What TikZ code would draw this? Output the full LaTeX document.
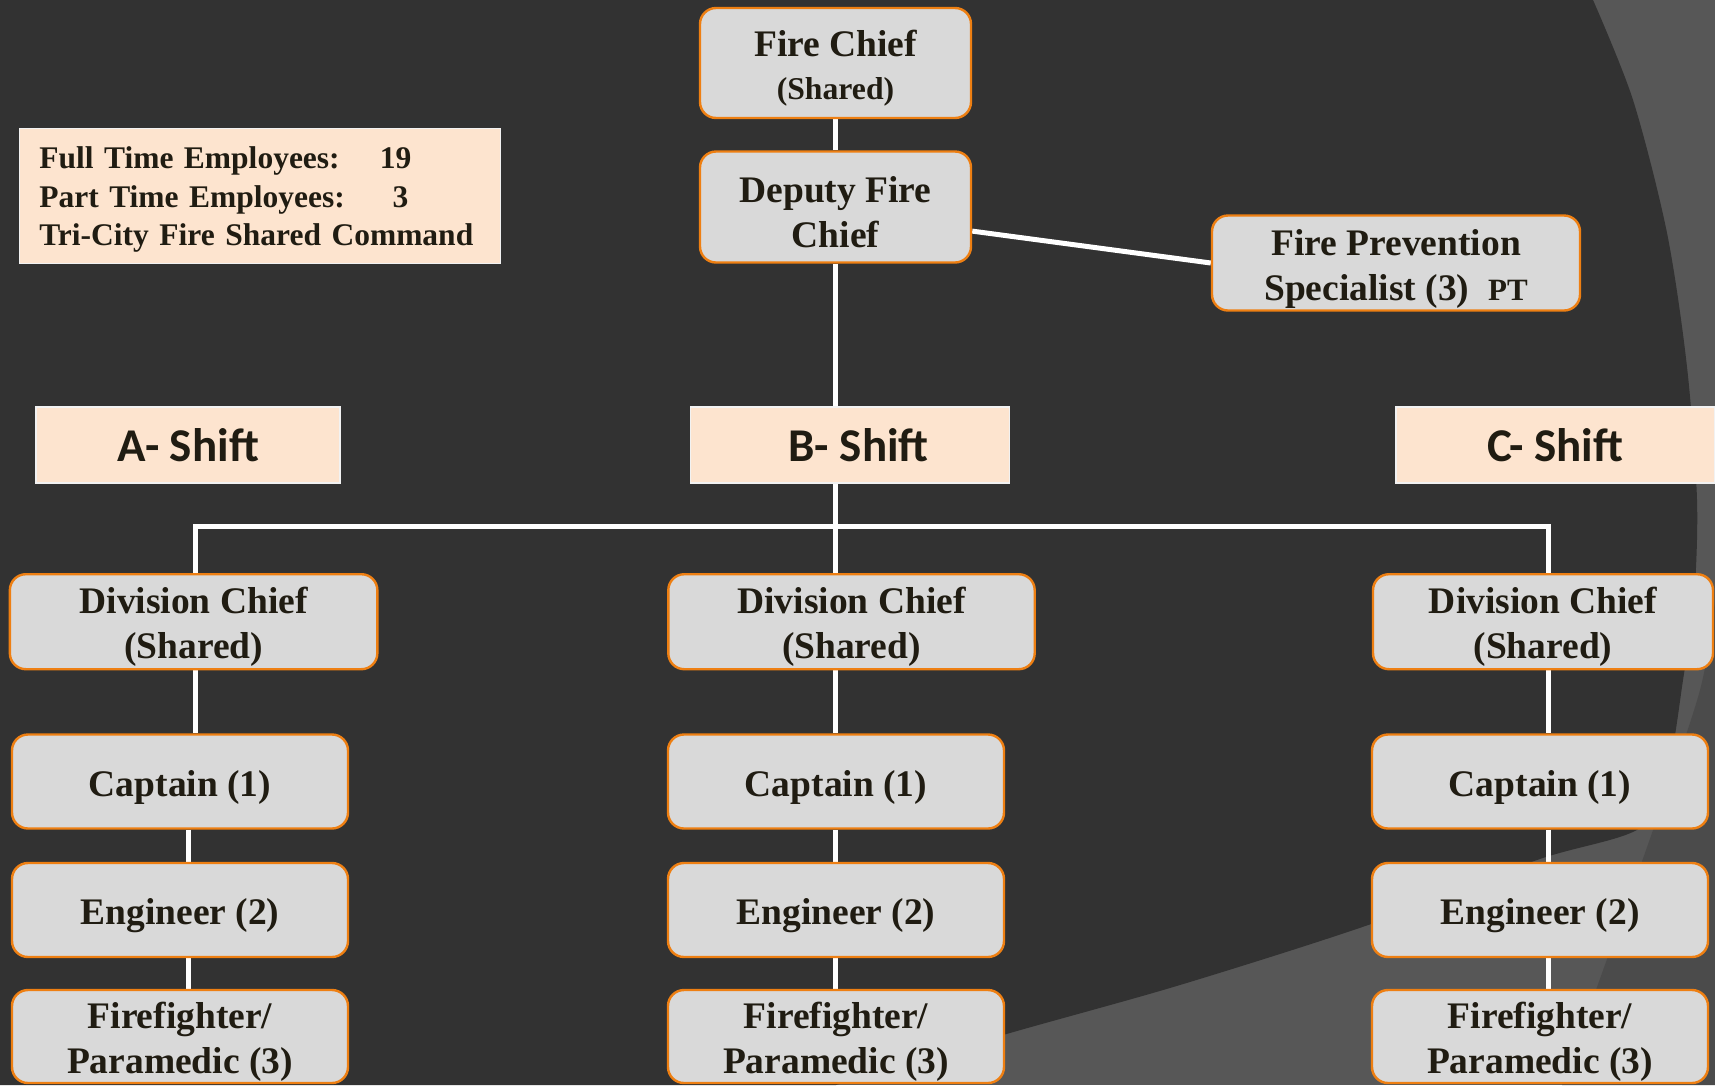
\documentclass[tikz,border=0pt]{standalone}
\usepackage{fontspec}
\setmainfont{Liberation Serif}
\newfontfamily\shiftfont{Carlito}
\usetikzlibrary{calc}

\pgfdeclarelayer{back}
\pgfdeclarelayer{wires}
\pgfsetlayers{back,wires,main}

\definecolor{slate}{HTML}{323232}
\definecolor{arcgrey}{HTML}{575757}
\definecolor{bandgrey}{HTML}{4B4B4B}
\definecolor{boxfill}{HTML}{D9D9D9}
\definecolor{boxline}{HTML}{EE7F12}
\definecolor{peach}{HTML}{FDE4CF}
\definecolor{ink}{HTML}{201C12}

\tikzset{
  rolebox/.style={draw=boxline, line width=2.4pt, fill=boxfill, rounded corners=16pt,
    inner sep=0pt, align=center, text=ink,
    font=\bfseries\fontsize{37.5}{45}\selectfont},
  rank/.style={rolebox, minimum width=336pt, minimum height=94pt},
  divbox/.style={rolebox, minimum height=95pt},
  shiftbox/.style={draw=white!90!gray, line width=1.6pt, fill=peach, inner sep=0pt,
    text=ink, minimum height=76pt,
    font=\shiftfont\bfseries\fontsize{47}{56}\selectfont},
  wire/.style={draw=white, line width=5pt},
}

% a line of fixed width with its figure pushed to the right
\newcommand\tabline[2]{\leavevmode\hbox to #1{#2}}
% taller first line, so the text sits a little low in its box
\newcommand\boxstrut{\rule{0pt}{37pt}}

\begin{document}
\begin{tikzpicture}[x=1pt,y=-1pt]
\useasboundingbox (0,0) rectangle (1715,1085);

% background: dark field with the lighter arc and band on the right
\begin{pgfonlayer}{back}
  \fill[arcgrey] (0,0) rectangle (1715,1085);
  \fill[bandgrey] (1715,600) -- plot[smooth, tension=0.5] coordinates
    {(1715,600) (1700,690) (1653,830) (1597,987) (1562,1085)}
    -- (1715,1085) -- cycle;
  \fill[slate] (0,0) -- plot[smooth, tension=0.5] coordinates
    {(1593,0) (1633,100) (1667,233) (1687,367) (1697,500) (1694,600)
     (1683,680) (1668,770) (1640,828) (1537,860) (1374,923) (1180,985)
     (1003,1035) (836,1085)}
    -- (0,1085) -- cycle;
\end{pgfonlayer}

% command staff
\node[rolebox, minimum width=271pt, minimum height=110pt] (fc) at (835.5,63)
  {\boxstrut Fire Chief\\[-2.4pt]{\fontsize{31.7}{38}\selectfont (Shared)}};
\node[rolebox, minimum width=271pt, minimum height=111pt] (dep) at (835.5,207)
  {\boxstrut Deputy Fire\\Chief};
\node[rolebox, minimum width=368pt, minimum height=95pt] (fps) at (1396,263)
  {\boxstrut Fire Prevention\\Specialist (3)\ \ {\fontsize{31}{37}\selectfont PT}};

% staffing summary
\node[fill=peach, draw=white!90!gray, line width=1.4pt, anchor=north west,
  minimum width=481pt, minimum height=134.5pt, text width=441pt, inner xsep=20pt,
  inner ysep=0pt, align=left, text=ink,
  font=\bfseries\fontsize{31.5}{38.3}\selectfont] (info) at (18.6,128)
  {\rule{0pt}{29pt}\tabline{372pt}{Full Time Employees:\hfill 19}\\
   \tabline{369pt}{Part Time Employees:\hfill 3}\\
   Tri-City Fire Shared Command};

% shift headers
\node[shiftbox, minimum width=304pt] (shA) at (188,445) {A- Shift};
\node[shiftbox, minimum width=319pt] (shB) at (850,445) {\hspace*{17pt}B- Shift};
\node[shiftbox, minimum width=319pt] (shC) at (1555.3,445) {C- Shift};

% division chiefs
\node[divbox, minimum width=367.5pt] (divA) at (193.6,621.7) {\boxstrut Division Chief\\(Shared)};
\node[divbox, minimum width=366.4pt] (divB) at (851.5,621.7) {\boxstrut Division Chief\\(Shared)};
\node[divbox, minimum width=340pt]   (divC) at (1543,621.7) {\boxstrut Division Chief\\(Shared)};

% crews
\node[rank] (capA) at (180,781.5) {\boxstrut Captain (1)};
\node[rank] (capB) at (836,781.5) {\boxstrut Captain (1)};
\node[rank] (capC) at (1540,781.5) {\boxstrut Captain (1)};
\node[rank] (engA) at (180,910) {\boxstrut Engineer (2)};
\node[rank] (engB) at (836,910) {\boxstrut Engineer (2)};
\node[rank] (engC) at (1540,910) {\boxstrut Engineer (2)};
\node[rank, minimum height=93pt] (ffA) at (180,1036.5) {\boxstrut Firefighter/\\Paramedic (3)};
\node[rank, minimum height=93pt] (ffB) at (836,1036.5) {\boxstrut Firefighter/\\Paramedic (3)};
\node[rank, minimum height=93pt] (ffC) at (1540,1036.5) {\boxstrut Firefighter/\\Paramedic (3)};

% reporting lines
\coordinate (jA) at (195.8,526);
\coordinate (jC) at (1548,526);
\coordinate (xA) at (188,0);
\begin{pgfonlayer}{wires}
  \draw[wire] (fc) -- (dep);
  \draw[wire] (dep.-10) -- (fps.west);
  \draw[wire] (dep.south) -- (divB.north -| dep.south);
  \draw[wire] (divA.north -| jA) -- (jA) -- (jC) -- (divC.north -| jC);
  % A crew
  \draw[wire] (divA.south -| jA) -- (capA.north -| jA);
  \draw[wire] (capA.south -| xA) -- (engA.north -| xA);
  \draw[wire] (engA.south -| xA) -- (ffA.north -| xA);
  % B crew
  \draw[wire] (divB.south -| dep.south) -- (capB.north -| dep.south);
  \draw[wire] (capB.south -| dep.south) -- (engB.north -| dep.south);
  \draw[wire] (engB.south -| dep.south) -- (ffB.north -| dep.south);
  % C crew
  \draw[wire] (divC.south -| jC) -- (capC.north -| jC);
  \draw[wire] (capC.south -| jC) -- (engC.north -| jC);
  \draw[wire] (engC.south -| jC) -- (ffC.north -| jC);
\end{pgfonlayer}
\end{tikzpicture}
\end{document}
